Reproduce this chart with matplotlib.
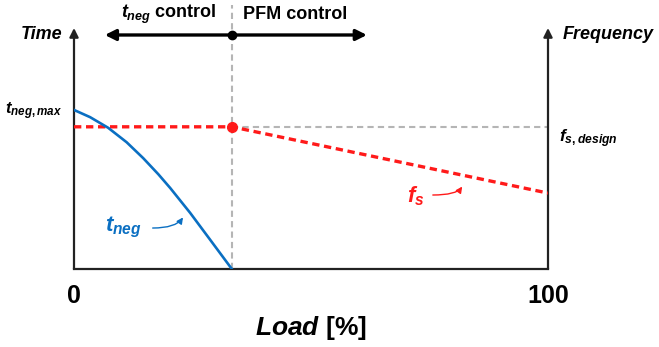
import matplotlib
matplotlib.use("Agg")
import matplotlib.pyplot as plt

plt.rcParams['font.family'] = ['Liberation Sans', 'DejaVu Sans']
plt.rcParams['mathtext.fontset'] = 'custom'
plt.rcParams['mathtext.it'] = 'Liberation Sans:italic:bold'
plt.rcParams['mathtext.rm'] = 'Liberation Sans:bold'
plt.rcParams['mathtext.bf'] = 'Liberation Sans:bold'

# ---- data (load in %, vertical value in relative units 0..100) ----
load_tneg = [0, 3.4, 7.2, 11.1, 14.6, 17.8, 20.3, 24.5, 28.7, 33.3]
tneg = [66.0, 63.0, 58.6, 52.6, 46.0, 39.3, 33.6, 23.3, 12.2, 0]
load_fs = [0, 33.3, 100]
fs = [59.0, 59.0, 31.5]
load_design = [33.3, 100]
fs_design = [59.0, 59.0]
boundary = 33.3
x_ticks = [0, 100]
x_ticklabels = ['0', '100']

BLUE = '#0A6FC2'
RED = '#FF1A1A'
GRAY = '#B5B5B5'

fig = plt.figure(figsize=(6.59, 3.47), dpi=100)
ax = fig.add_axes([74/659, (347-269)/347, 474/659, 241/347])
ax.set_xlim(0, 100)
ax.set_ylim(0, 100)
for s in ['top', 'left', 'right']:
    ax.spines[s].set_visible(False)
ax.spines['bottom'].set_linewidth(1.6)
ax.spines['bottom'].set_color('#222222')
ax.set_yticks([])
ax.set_xticks(x_ticks, x_ticklabels, fontsize=18, fontweight='bold')
ax.tick_params(axis='x', length=0, pad=11)

# vertical axes with arrows
for xv in [0, 100]:
    ax.annotate('', xy=(xv, 100), xytext=(xv, 0), xycoords='data',
                arrowprops=dict(arrowstyle='-|>', lw=1.6, color='#222222',
                                shrinkA=0, shrinkB=0, mutation_scale=13),
                annotation_clip=False)

# boundary dashed line
ax.plot([boundary, boundary], [0, 109.5], color=GRAY, lw=1.5,
        dashes=(3, 2), clip_on=False, zorder=1)

# design frequency (gray dashed)
ax.plot(load_design, fs_design, color=GRAY, lw=1.5, dashes=(3, 2), zorder=2)

# f_s (red dashed)
ax.plot(load_fs, fs, color=RED, lw=2.4, dashes=(2.2, 1.4), zorder=3,
        solid_capstyle='butt')
ax.plot([boundary], [fs[1]], 'o', color=RED, ms=7, zorder=5)

# t_neg (blue)
ax.plot(load_tneg, tneg, color=BLUE, lw=1.9, zorder=4,
        solid_joinstyle='round')

# top control arrows
ytop = 97.1
ax.annotate('', xy=(6.5, ytop), xytext=(boundary, ytop),
            arrowprops=dict(arrowstyle='-|>', lw=2.4, color='black',
                            shrinkA=0, shrinkB=0, mutation_scale=16),
            annotation_clip=False)
ax.annotate('', xy=(61.8, ytop), xytext=(boundary, ytop),
            arrowprops=dict(arrowstyle='-|>', lw=2.4, color='black',
                            shrinkA=0, shrinkB=0, mutation_scale=16),
            annotation_clip=False)
ax.plot([boundary], [ytop], 'o', color='black', ms=6, clip_on=False, zorder=6)

# texts
ax.text(19.9, 105.8, r'$t_{neg}$ control', fontsize=13, fontweight='bold',
        ha='center', va='center', clip_on=False)
ax.text(35.7, 105.8, 'PFM control', fontsize=13, fontweight='bold',
        ha='left', va='center', clip_on=False)
ax.text(-2.5, 97.1, 'Time', fontsize=13, fontweight='bold', style='italic',
        ha='right', va='center', clip_on=False)
ax.text(103.0, 97.1, 'Frequency', fontsize=13, fontweight='bold', style='italic',
        ha='left', va='center', clip_on=False)
ax.text(-2.5, 65.6, r'$t_{neg,max}$', fontsize=12, ha='right', va='center',
        clip_on=False)
ax.text(102.3, 54.0, r'$f_{s,design}$', fontsize=12.5, ha='left', va='center',
        clip_on=False)
ax.text(6.5, 17.4, r'$t_{neg}$', fontsize=16, color=BLUE, ha='left', va='center')
ax.text(70.3, 30.0, r'$f_{s}$', fontsize=16, color=RED, ha='left', va='center')

ax.annotate('', xy=(23.0, 21.4), xytext=(16.6, 17.0),
            arrowprops=dict(arrowstyle='-|>', lw=1.0, color=BLUE,
                            shrinkA=0, shrinkB=0, mutation_scale=9,
                            connectionstyle='angle3,angleA=0,angleB=55'))
ax.annotate('', xy=(81.9, 34.2), xytext=(75.7, 30.7),
            arrowprops=dict(arrowstyle='-|>', lw=1.0, color=RED,
                            shrinkA=0, shrinkB=0, mutation_scale=9,
                            connectionstyle='angle3,angleA=0,angleB=55'))

ax.set_xlabel(r'$Load$ [%]', fontsize=19, fontweight='bold', labelpad=4)

fig.savefig('out.png', dpi=100)
